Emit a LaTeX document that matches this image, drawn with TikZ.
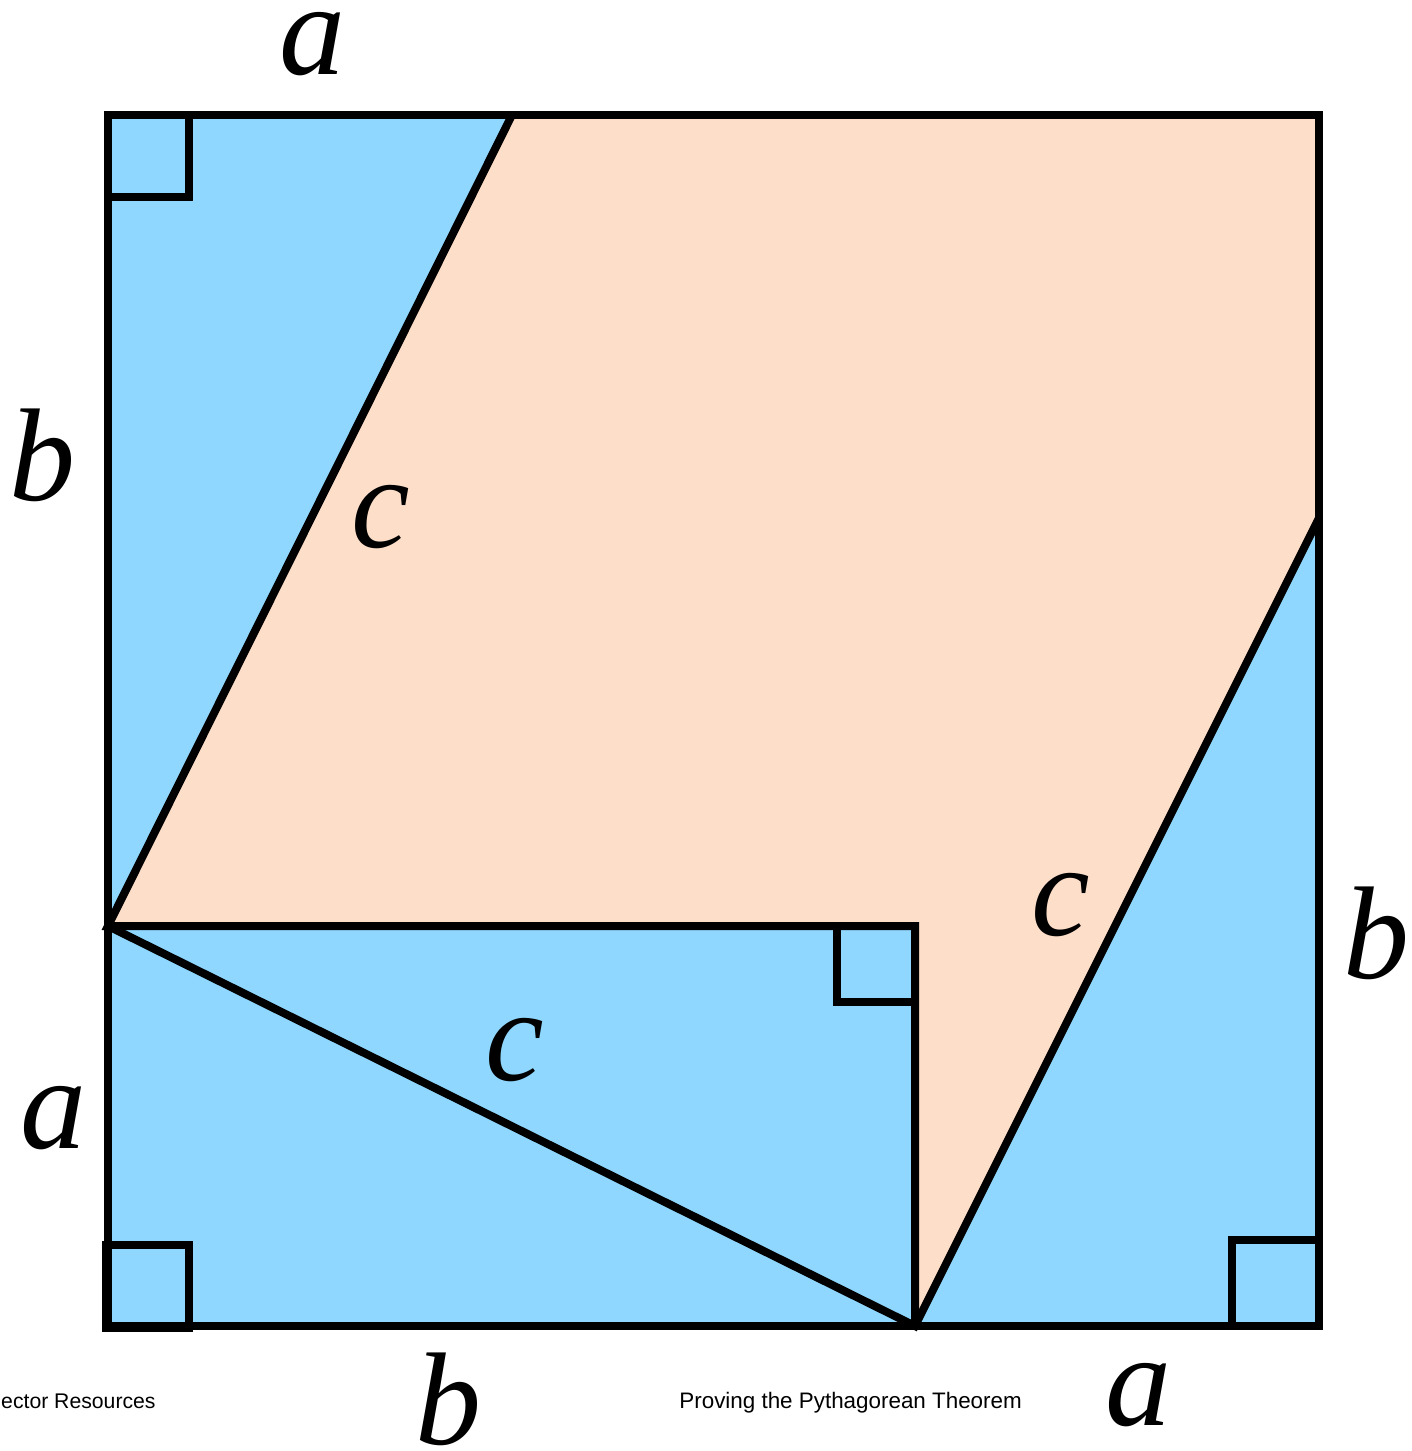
\documentclass[tikz,border=0pt]{standalone}
\usepackage{fontspec}
\setmainfont{Liberation Serif}
\newfontfamily\captionfont{Liberation Sans}
\definecolor{skyfill}{RGB}{143,215,254}
\definecolor{peachfill}{RGB}{253,222,201}
\begin{document}
\begin{tikzpicture}[x=0.5pt,y=-0.5pt,
  edge/.style={line width=4pt,draw=black,line join=miter},
  lbl/.style={inner sep=0pt,font=\fontsize{66}{66}\selectfont\itshape},
  captiontext/.style={inner sep=0pt,font=\captionfont\fontsize{11.2}{12}\selectfont}]
\useasboundingbox (0,0) rectangle (1412,1451);
% corner points
\coordinate (TL) at (108,115);
\coordinate (TR) at (1319,115);
\coordinate (BR) at (1319,1326);
\coordinate (BL) at (108,1326);
\coordinate (P) at (512,115);
\coordinate (Q) at (1319,518);
\coordinate (R) at (915,1326);
\coordinate (S) at (108,926);
\coordinate (T) at (915,926);
% fills
\fill[skyfill] (TL) rectangle (BR);
\fill[peachfill] (P) -- (TR) -- (Q) -- (R) -- (T) -- (S) -- cycle;
% right-angle marks
\draw[edge] (108,197) -- (189,197) -- (189,115);
\draw[edge] (837,926) -- (837,1002) -- (915,1002);
\draw[edge] (106,1245) rectangle (189,1328);
\draw[edge] (1232,1326) -- (1232,1240) -- (1319,1240);
% lines
\draw[edge] (P) -- (S) -- (T) -- (R);
\draw[edge] (S) -- (R) -- (Q);
\draw[edge] (TL) rectangle (BR);
% labels
\node[lbl] (la1) at (312,44) {a};
\node[lbl] (lb1) at (43,455) {b};
\node[lbl] (lc1) at (381,517) {c};
\node[lbl] (lc2) at (1061,905) {c};
\node[lbl] (lb2) at (1376,933) {b};
\node[lbl] (lc3) at (515,1050) {c};
\node[lbl] (la2) at (53,1118) {a};
\node[lbl] (lb3) at (448,1399) {b};
\node[lbl] (la3) at (1138,1395) {a};
\node[captiontext,font=\captionfont\fontsize{10.6}{12}\selectfont,anchor=base east] (res) at (156,1408) {ector Resources};
\node[captiontext,anchor=base west] (ttl) at (679,1408) {Proving the Pythagorean Theorem};
\end{tikzpicture}
\end{document}
